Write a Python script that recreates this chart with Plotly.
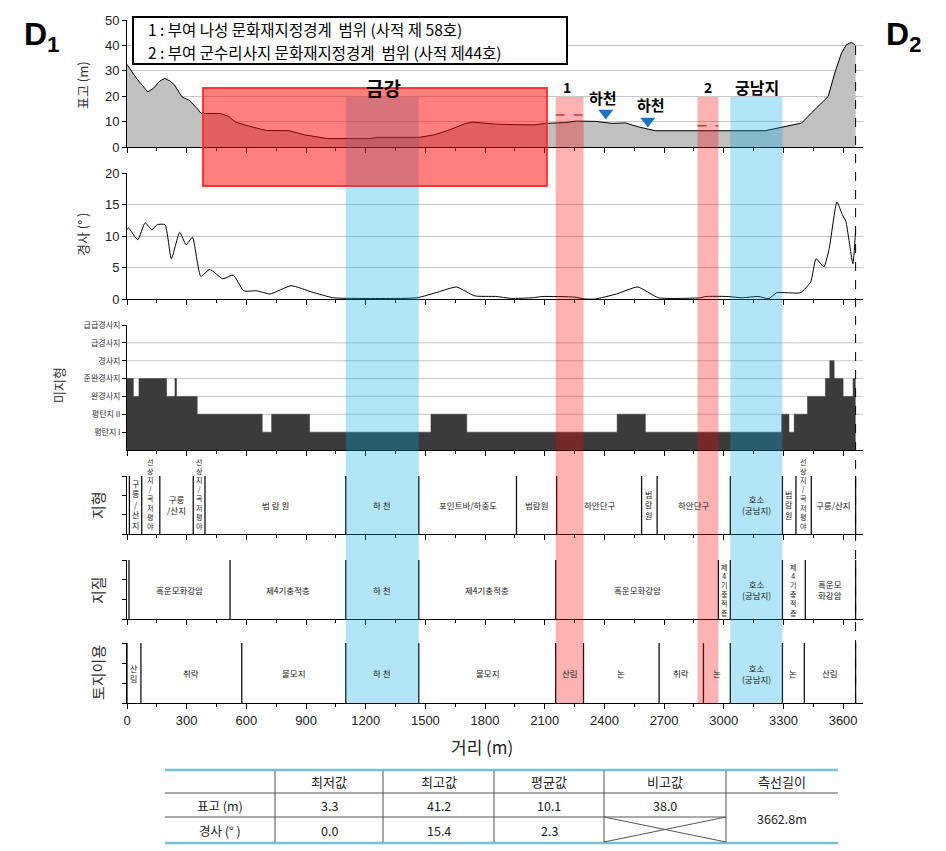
import plotly.graph_objects as go

W, H = 946, 851

# ---------------- data ----------------
elev_dist = [0, 46, 104, 133, 165, 190, 215, 238, 277, 315, 354, 373, 469, 508, 546, 604, 700, 815,
             892, 1008, 1219, 1258, 1469, 1546, 1623, 1700, 1738, 1800, 1854, 1950, 2046, 2104, 2200,
             2258, 2355, 2439, 2505, 2572, 2656, 3207, 3291, 3391, 3441, 3491, 3525, 3558, 3592, 3617,
             3642, 3662.8]
elev_val = [32.5, 27.2, 21.7, 23.1, 26.0, 27.0, 26.0, 24.5, 19.7, 18.3, 15.0, 13.2, 13.2, 12.2, 9.8,
            8.4, 6.5, 6.4, 4.8, 3.3, 3.3, 3.8, 3.8, 4.8, 6.8, 9.2, 9.8, 9.4, 9.0, 8.8, 8.7, 9.3, 9.6,
            10.2, 10.1, 9.3, 9.5, 7.9, 6.4, 6.4, 7.9, 9.4, 13.4, 17.3, 19.9, 29.1, 37.0, 40.3, 41.2, 40.0]

slope_dist = [0, 7, 54, 91, 125, 152, 191, 223, 265, 297, 329, 371, 416, 482, 534, 587, 653, 719, 825,
              930, 1036, 1141, 1458, 1563, 1656, 1748, 1854, 1933, 2039, 2091, 2250, 2302, 2355, 2461,
              2567, 2672, 2883, 2910, 3015, 3094, 3173, 3226, 3266, 3385, 3437, 3464, 3503, 3530, 3569,
              3596, 3614, 3649, 3662.8]
slope_val = [11.0, 11.3, 9.4, 12.1, 11.0, 11.8, 11.8, 6.4, 10.6, 8.6, 9.8, 3.6, 4.7, 3.2, 3.8, 1.3, 1.3,
             0.8, 2.1, 1.1, 0.2, 0.1, 0.2, 1.1, 1.9, 0.5, 0.4, 0.1, 0.2, 0.4, 0.3, 0.0, 0.0, 0.8, 1.9,
             0.2, 0.2, 0.4, 0.4, 0.2, 0.4, 0.05, 1.0, 1.0, 2.7, 6.4, 5.1, 8.0, 15.4, 13.4, 12.3, 5.6, 11.0]

micro_dist = [0, 32, 60, 199, 241, 249, 353, 680, 727, 918, 1528, 1708, 2464, 2606, 3291, 3328, 3354,
              3421, 3511, 3533, 3555, 3600, 3650, 3662.8]
micro_level = [4, 3, 4, 3, 4, 3, 2, 1, 2, 1, 2, 1, 2, 1, 2, 1, 2, 3, 4, 5, 4, 3, 4, 4]
micro_labels = ["평탄지 I", "평탄지 II", "완경사지", "준완경사지", "경사지", "급경사지", "급급경사지"]

x_ticks = list(range(0, 3601, 300))

landform_bounds = [12, 74, 165, 333, 392, 1100, 1467, 1958, 2160, 2587, 2665, 3033, 3295, 3363, 3440, 3662.8]
landform_labels = ["구릉/산지", "선상지/곡저평야", "구릉\n/산지", "선상지/곡저평야", "범 람 원", "하 천",
                   "포인트바/하중도", "범람원", "하안단구", "범람원", "하안단구", "호소\n(궁남지)", "범람원",
                   "선상지/곡저평야", "구릉/산지"]
landform_vertical = [True, True, False, True, False, False, False, False, False, True, False, False, True,
                     True, False]

geology_bounds = [10, 518, 1100, 1467, 2155, 2973, 3033, 3295, 3410, 3662.8]
geology_labels = ["흑운모화강암", "제4기충적층", "하 천", "제4기충적층", "흑운모화강암", "제4기충적층",
                  "호소\n(궁남지)", "제4기충적층", "흑운모\n화강암"]
geology_vertical = [False, False, False, False, False, True, False, True, False]

landuse_bounds = [0, 70, 577, 1100, 1467, 2155, 2295, 2675, 2898, 3033, 3295, 3405, 3662.8]
landuse_labels = ["산림", "취락", "불모지", "하 천", "불모지", "산림", "논", "취락", "논", "호소\n(궁남지)",
                  "논", "산림"]
landuse_vertical = [True, False, False, False, False, False, False, False, False, False, False, False]

blue_bands = [(1100, 1467), (3033, 3295)]
pink_bands = [(2155, 2295), (2868, 2973)]
red_zone = (382, 2111)

table_header = ["최저값", "최고값", "평균값", "비고값", "측선길이"]
table_rows = ["표고 (m)", "경사 (° )"]
elev_stats = ["3.3", "41.2", "10.1", "38.0"]
slope_stats = ["0.0", "15.4", "2.3"]
profile_length = "3662.8m"

# ---------------- helpers ----------------
KR = "Noto Sans CJK KR, Noto Sans, sans-serif"
NUM = "Liberation Sans Narrow, Liberation Sans, Arial, sans-serif"


def pxx(x):
    return x / W


def pyy(y):
    return 1 - y / H


XDOM = [127 / W, 863 / W]
panels = [(20, 147), (173, 299), (325, 450), (476, 534), (560, 619), (643, 703)]

fig = go.Figure()

fig.add_trace(go.Scatter(x=elev_dist, y=elev_val, mode="lines", fill="tozeroy",
                         fillcolor="#c0c0c0", line=dict(color="black", width=1),
                         xaxis="x", yaxis="y", showlegend=False, hoverinfo="skip"))
fig.add_trace(go.Scatter(x=[2407, 2618], y=[13.4, 10.2], mode="markers",
                         marker=dict(symbol="triangle-down", size=13, color="#1b72c2"),
                         xaxis="x", yaxis="y", showlegend=False, hoverinfo="skip"))
fig.add_trace(go.Scatter(x=slope_dist, y=slope_val, mode="lines",
                         line=dict(color="black", width=1, shape="spline", smoothing=0.5),
                         xaxis="x2", yaxis="y2", showlegend=False, hoverinfo="skip"))
fig.add_trace(go.Scatter(x=micro_dist, y=micro_level, mode="lines", line_shape="hv",
                         fill="tozeroy", fillcolor="#3b3b3b", line=dict(color="#3b3b3b", width=0.5),
                         xaxis="x3", yaxis="y3", showlegend=False, hoverinfo="skip"))
for k in (4, 5, 6):
    fig.add_trace(go.Scatter(x=[0], y=[0], mode="markers", marker=dict(opacity=0),
                             xaxis=f"x{k}", yaxis=f"y{k}", showlegend=False, hoverinfo="skip"))

layout = dict(width=W, height=H, autosize=False, margin=dict(l=0, r=0, t=0, b=0, pad=0),
              plot_bgcolor="white", paper_bgcolor="white", showlegend=False)

for k, (top, bot) in enumerate(panels, start=1):
    xs = "xaxis" if k == 1 else f"xaxis{k}"
    ys = "yaxis" if k == 1 else f"yaxis{k}"
    layout[xs] = dict(domain=XDOM, range=[0, 3700], anchor=f"y{k}" if k > 1 else "y",
                      showline=True, linecolor="black", linewidth=1, ticks="outside", ticklen=5,
                      tickcolor="black", tickvals=x_ticks, showgrid=False, zeroline=False,
                      automargin=False,
                      showticklabels=(k == 6), tickfont=dict(family=NUM, size=13, color="#222"),
                      minor=dict(ticks="outside", ticklen=3, tick0=0, dtick=150, tickcolor="black",
                                 showgrid=False))
    layout[ys] = dict(domain=[pyy(bot), pyy(top)], anchor=f"x{k}" if k > 1 else "x",
                      showline=True, linecolor="black", linewidth=1, ticks="outside", ticklen=4,
                      tickcolor="black", zeroline=False, showgrid=False, automargin=False,
                      tickfont=dict(family=NUM, size=13, color="#222"))

layout["yaxis"].update(range=[0, 50], dtick=10, showgrid=True, gridcolor="#c8c8c8")
layout["yaxis2"].update(range=[0, 20], dtick=5, showgrid=True, gridcolor="#c8c8c8")
layout["yaxis3"].update(range=[0, 7], tickvals=list(range(1, 8)), ticktext=micro_labels,
                        tickfont=dict(family=KR, size=8, color="#333"))
for k in (4, 5, 6):
    layout[f"yaxis{k}"].update(range=[0, 3], tickvals=[0, 1, 2, 3], showticklabels=False)

shapes = []
annotations = []


def ann(**kw):
    kw.setdefault("showarrow", False)
    kw.setdefault("xanchor", "center")
    kw.setdefault("yanchor", "middle")
    annotations.append(kw)


for lv in range(2, 7):
    shapes.append(dict(type="line", xref="x3", yref="y3", x0=0, x1=3700, y0=lv, y1=lv,
                       line=dict(color="#c8c8c8", width=1), layer="below"))


def stack(s):
    return "<br>".join(list(s))


SEGCOL = "#222"


def seg_panel(k, bounds, labels, vertical):
    for b in bounds:
        shapes.append(dict(type="line", xref=f"x{k}", yref=f"y{k}", x0=b, x1=b, y0=0, y1=3,
                           line=dict(color="#111", width=1.3), layer="below"))
    for i, lab in enumerate(labels):
        a, b = bounds[i], bounds[i + 1]
        if vertical[i]:
            txt = stack(lab)
            n = len(lab)
            size = 7 if n >= 6 else 8
            if n >= 7:
                ann(x=(a + b) / 2, y=0.05, xref=f"x{k}", yref=f"y{k}", text=txt, yanchor="bottom",
                    font=dict(family=KR, size=size, color=SEGCOL))
                continue
        else:
            txt = lab.replace("\n", "<br>")
            size = 8.5
        ann(x=(a + b) / 2, y=1.5, xref=f"x{k}", yref=f"y{k}", text=txt,
            font=dict(family=KR, size=size, color=SEGCOL))


seg_panel(4, landform_bounds, landform_labels, landform_vertical)
seg_panel(5, geology_bounds, geology_labels, geology_vertical)
seg_panel(6, landuse_bounds, landuse_labels, landuse_vertical)

for a, b in blue_bands:
    shapes.append(dict(type="rect", xref="x", yref="paper", x0=a, x1=b, y0=pyy(703), y1=pyy(97),
                       fillcolor="rgba(0,170,230,0.3)", line=dict(width=0), layer="above"))
for a, b in pink_bands:
    shapes.append(dict(type="rect", xref="x", yref="paper", x0=a, x1=b, y0=pyy(703), y1=pyy(97),
                       fillcolor="rgba(255,0,0,0.3)", line=dict(width=0), layer="above"))
shapes.append(dict(type="rect", xref="x", yref="paper", x0=red_zone[0], x1=red_zone[1],
                   y0=pyy(186), y1=pyy(88), fillcolor="rgba(255,0,0,0.5)",
                   line=dict(color="rgba(255,40,40,0.9)", width=2), layer="above"))
shapes.append(dict(type="line", xref="x", yref="y", x0=2155, x1=2295, y0=12.6, y1=12.6,
                   line=dict(color="#e03030", width=1.5, dash="dash"), layer="above"))
shapes.append(dict(type="line", xref="x", yref="y", x0=2868, x1=2973, y0=8.4, y1=8.4,
                   line=dict(color="#e03030", width=1.5, dash="dash"), layer="above"))
shapes.append(dict(type="line", xref="x", yref="paper", x0=3662.8, x1=3662.8, y0=pyy(703), y1=pyy(38),
                   line=dict(color="black", width=1, dash="dash"), layer="above"))

# legend box
shapes.append(dict(type="rect", xref="paper", yref="paper", x0=pxx(133), x1=pxx(567), y0=pyy(64),
                   y1=pyy(17), fillcolor="white", line=dict(color="black", width=2), layer="above"))
ann(x=pxx(146), y=pyy(29), xref="paper", yref="paper", xanchor="left",
    text="1 : 부여 나성 문화재지정경계  범위 (사적 제 58호)",
    font=dict(family=KR, size=15.5, color="black"))
ann(x=pxx(146), y=pyy(52), xref="paper", yref="paper", xanchor="left",
    text="2 : 부여 군수리사지 문화재지정경계  범위 (사적 제44호)",
    font=dict(family=KR, size=15.5, color="black"))

for xv, yp, t, s in [(1287, 88, "금강", 19), (2211, 87, "1", 14), (2392, 98, "하천", 15),
                     (2634, 104, "하천", 15), (2920, 87, "2", 14), (3166, 87, "궁남지", 16)]:
    ann(x=xv, y=pyy(yp), xref="x", yref="paper", text=f"<b>{t}</b>",
        font=dict(family=KR, size=s, color="black"))

ann(x=pxx(42), y=pyy(36), xref="paper", yref="paper", text="<b>D<sub>1</sub></b>",
    font=dict(family="Liberation Sans, Arial", size=32, color="black"))
ann(x=pxx(904), y=pyy(36), xref="paper", yref="paper", text="<b>D<sub>2</sub></b>",
    font=dict(family="Liberation Sans, Arial", size=32, color="black"))

for t, xp, yp, s in [("표고 (m)", 82, 85, 13), ("경사 (° )", 82, 235, 13), ("미지형", 58, 385, 13),
                     ("지형", 97, 505, 15), ("지질", 97, 590, 15), ("토지이용", 97, 673, 15)]:
    ann(x=pxx(xp), y=pyy(yp), xref="paper", yref="paper", text=t, textangle=-90,
        font=dict(family=KR, size=s, color="#333"))

ann(x=pxx(482), y=pyy(746), xref="paper", yref="paper", text="거리 (m)",
    font=dict(family=KR, size=17, color="#222"))

# ---------------- table ----------------
cols = [165, 275, 383, 494, 604, 726, 838]
rows = [770, 793, 817, 843]
teal = "#78c0d0"
gray = "#555"
for yv in (rows[0], rows[3]):
    shapes.append(dict(type="line", xref="paper", yref="paper", x0=pxx(cols[0]), x1=pxx(cols[-1]),
                       y0=pyy(yv), y1=pyy(yv), line=dict(color=teal, width=2.5)))
shapes.append(dict(type="line", xref="paper", yref="paper", x0=pxx(cols[0]), x1=pxx(cols[-1]),
                   y0=pyy(rows[1]), y1=pyy(rows[1]), line=dict(color=gray, width=1)))
shapes.append(dict(type="line", xref="paper", yref="paper", x0=pxx(cols[0]), x1=pxx(cols[5]),
                   y0=pyy(rows[2]), y1=pyy(rows[2]), line=dict(color=gray, width=1)))
for xv in cols[1:-1]:
    shapes.append(dict(type="line", xref="paper", yref="paper", x0=pxx(xv), x1=pxx(xv),
                       y0=pyy(rows[0] + 1), y1=pyy(rows[3] - 1), line=dict(color=gray, width=1)))
shapes.append(dict(type="line", xref="paper", yref="paper", x0=pxx(cols[4]), x1=pxx(cols[5]),
                   y0=pyy(rows[2]), y1=pyy(rows[3] - 1), line=dict(color=gray, width=1)))
shapes.append(dict(type="line", xref="paper", yref="paper", x0=pxx(cols[4]), x1=pxx(cols[5]),
                   y0=pyy(rows[3] - 1), y1=pyy(rows[2]), line=dict(color=gray, width=1)))


def cell(text, c0, c1, r0, r1, size=12.5):
    ann(x=pxx((c0 + c1) / 2), y=pyy((r0 + r1) / 2), xref="paper", yref="paper",
        text=text, font=dict(family=KR, size=size, color="#222"))


for i, h in enumerate(table_header):
    cell(h, cols[i + 1], cols[i + 2], rows[0], rows[1], 13)
cell(table_rows[0], cols[0], cols[1], rows[1], rows[2])
cell(table_rows[1], cols[0], cols[1], rows[2], rows[3])
for i, v in enumerate(elev_stats):
    cell(v, cols[i + 1], cols[i + 2], rows[1], rows[2])
for i, v in enumerate(slope_stats):
    cell(v, cols[i + 1], cols[i + 2], rows[2], rows[3])
cell(profile_length, cols[5], cols[6], rows[1], rows[3])

layout["shapes"] = shapes
layout["annotations"] = annotations
fig.update_layout(**layout)
fig.write_html("out.html", config={"displayModeBar": False},
               post_script="document.body.style.margin='0';")
